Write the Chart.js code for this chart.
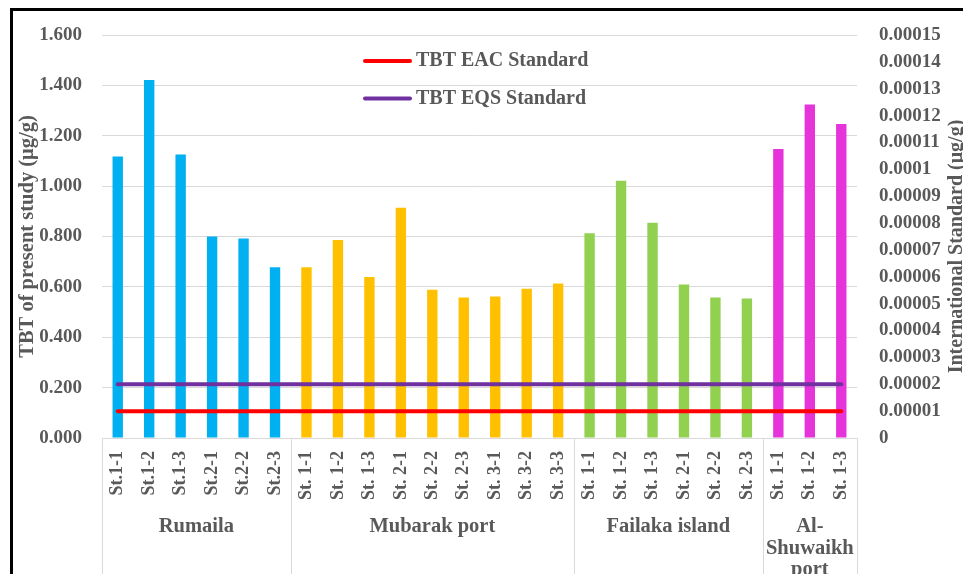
<!DOCTYPE html>
<html>
<head>
<meta charset="utf-8">
<title>TBT concentrations by station</title>
<script src="https://cdn.jsdelivr.net/npm/chart.js@4.4.1/dist/chart.umd.min.js"></script>
<style>
  html, body { margin: 0; padding: 0; background: #fff; overflow: hidden; }
  #wrap { position: relative; width: 963px; height: 574px; }
  #chart { position: absolute; left: 0; top: 0; }
  #frame { position: absolute; left: 10px; top: 8px; width: 1000px; height: 700px;
           border-left: 3px solid #000; border-top: 3px solid #000; pointer-events: none; }
</style>
</head>
<body>
<div id="wrap">
  <canvas id="chart" width="963" height="574"></canvas>
  <div id="frame"></div>
</div>
<script>
// Station labels per site
const rumailaStations   = ['St.1-1', 'St.1-2', 'St.1-3', 'St.2-1', 'St.2-2', 'St.2-3'];
const mubarakStations   = ['St. 1-1', 'St. 1-2', 'St. 1-3', 'St. 2-1', 'St. 2-2', 'St. 2-3', 'St. 3-1', 'St. 3-2', 'St. 3-3'];
const failakaStations   = ['St. 1-1', 'St. 1-2', 'St. 1-3', 'St. 2-1', 'St. 2-2', 'St. 2-3'];
const shuwaikhStations  = ['St. 1-1', 'St. 1-2', 'St. 1-3'];

// TBT measured in the present study (µg/g)
const rumailaTBT  = [1.118, 1.421, 1.126, 0.800, 0.792, 0.678];
const mubarakTBT  = [0.678, 0.786, 0.639, 0.914, 0.589, 0.558, 0.562, 0.593, 0.613];
const failakaTBT  = [0.813, 1.021, 0.855, 0.609, 0.558, 0.554];
const shuwaikhTBT = [1.147, 1.324, 1.247];

// Site names shown under the station labels (one entry per text line)
const siteNames = [['Rumaila'], ['Mubarak port'], ['Failaka island'], ['Al-', 'Shuwaikh', 'port']];

// International standards (µg/g), right axis
const eacStandard = 0.00001;
const eqsStandard = 0.00002;

// Axis ticks
const leftTicks  = [0, 0.2, 0.4, 0.6, 0.8, 1.0, 1.2, 1.4, 1.6];
const rightTicks = [0, 0.00001, 0.00002, 0.00003, 0.00004, 0.00005, 0.00006, 0.00007, 0.00008,
                    0.00009, 0.0001, 0.00011, 0.00012, 0.00013, 0.00014, 0.00015];

const siteColors = ['#00B0F0', '#FFC000', '#92D050', '#E535DA'];
const textColor = '#595959';
const serif = "'Liberation Serif', 'Times New Roman', serif";

const stationGroups = [rumailaStations, mubarakStations, failakaStations, shuwaikhStations];
const valueGroups = [rumailaTBT, mubarakTBT, failakaTBT, shuwaikhTBT];

const labels = stationGroups.flat();
const values = valueGroups.flat();
const barColors = valueGroups.flatMap((g, i) => g.map(() => siteColors[i]));

Chart.defaults.font.family = serif;
Chart.defaults.color = textColor;

// Site names and separators under the category axis
const siteAxisPlugin = {
  id: 'siteAxis',
  afterDraw(chart) {
    const { ctx, chartArea, scales: { x } } = chart;
    const half = (x.getPixelForValue(1) - x.getPixelForValue(0)) / 2;
    const y0 = chartArea.bottom;
    const yEnd = chart.height;
    ctx.save();
    ctx.strokeStyle = '#d9d9d9';
    ctx.lineWidth = 1;
    const leftEdge = x.getPixelForValue(0) - half;
    const rightEdge = x.getPixelForValue(labels.length - 1) + half;
    ctx.beginPath();
    ctx.moveTo(leftEdge, y0 + 0.5);
    ctx.lineTo(rightEdge, y0 + 0.5);
    let start = 0;
    const bounds = [leftEdge];
    stationGroups.forEach(g => {
      start += g.length;
      bounds.push(x.getPixelForValue(start - 1) + half);
    });
    bounds.forEach(b => {
      const bx = Math.round(b) + 0.5;
      ctx.moveTo(bx, y0);
      ctx.lineTo(bx, yEnd);
    });
    ctx.stroke();

    ctx.fillStyle = textColor;
    ctx.font = `bold 20.5px ${serif}`;
    ctx.textAlign = 'center';
    ctx.textBaseline = 'middle';
    let idx = 0;
    stationGroups.forEach((g, i) => {
      const cx = (x.getPixelForValue(idx) + x.getPixelForValue(idx + g.length - 1)) / 2;
      siteNames[i].forEach((line, k) => {
        ctx.fillText(line, cx, y0 + 89 + k * 21.5);
      });
      idx += g.length;
    });
    ctx.restore();
  }
};

// Legend for the two standard lines, inside the plot area
const standardsLegendPlugin = {
  id: 'standardsLegend',
  afterDraw(chart) {
    const { ctx, chartArea } = chart;
    const items = chart.data.datasets.filter(d => d.type === 'line');
    const x0 = chartArea.left + 263;
    ctx.save();
    ctx.font = `bold 20px ${serif}`;
    ctx.textBaseline = 'middle';
    ctx.textAlign = 'left';
    items.forEach((d, i) => {
      const y = chartArea.top + 26 + i * 37.5;
      ctx.strokeStyle = d.borderColor;
      ctx.lineWidth = 4;
      ctx.lineCap = 'round';
      ctx.beginPath();
      ctx.moveTo(x0, y);
      ctx.lineTo(x0 + 45, y);
      ctx.stroke();
      ctx.fillStyle = textColor;
      ctx.fillText(d.label, x0 + 51, y);
    });
    ctx.restore();
  }
};

// Right axis title, reading bottom to top
const rightTitlePlugin = {
  id: 'rightTitle',
  afterDraw(chart) {
    const { ctx, chartArea } = chart;
    ctx.save();
    ctx.translate(957, (chartArea.top + chartArea.bottom) / 2 + 10);
    ctx.rotate(-Math.PI / 2);
    ctx.font = `bold 20px ${serif}`;
    ctx.fillStyle = textColor;
    ctx.textAlign = 'center';
    ctx.textBaseline = 'middle';
    ctx.fillText('International Standard (μg/g)', 0, 0);
    ctx.restore();
  }
};

const tickFont = { family: serif, size: 19, weight: 'bold' };

new Chart(document.getElementById('chart'), {
  data: {
    labels,
    datasets: [
      {
        type: 'line',
        label: 'TBT EAC Standard',
        data: labels.map(() => eacStandard),
        borderColor: '#FF0000',
        borderWidth: 4,
        borderCapStyle: 'round',
        pointRadius: 0,
        yAxisID: 'y1',
        order: 0
      },
      {
        type: 'line',
        label: 'TBT EQS Standard',
        data: labels.map(() => eqsStandard),
        borderColor: '#7030A0',
        borderWidth: 4,
        borderCapStyle: 'round',
        pointRadius: 0,
        yAxisID: 'y1',
        order: 0
      },
      {
        type: 'bar',
        label: 'TBT',
        data: values,
        backgroundColor: barColors,
        barPercentage: 0.33,
        categoryPercentage: 1,
        yAxisID: 'y',
        order: 2
      }
    ]
  },
  options: {
    responsive: false,
    animation: false,
    layout: { padding: { top: 35, left: 0, right: 0, bottom: 0 } },
    plugins: {
      legend: { display: false },
      tooltip: { enabled: false }
    },
    scales: {
      x: {
        offset: true,
        grid: { display: false, drawTicks: false },
        border: { display: false },
        ticks: {
          autoSkip: false,
          maxRotation: 90,
          minRotation: 90,
          padding: 13,
          color: textColor,
          font: { family: serif, size: 18, weight: 'bold' }
        },
        afterFit(s) { s.height = 136; }
      },
      y: {
        position: 'left',
        min: 0,
        max: 1.6,
        afterBuildTicks(s) { s.ticks = leftTicks.map(v => ({ value: v })); },
        ticks: {
          padding: 20,
          color: textColor,
          font: tickFont,
          callback: v => Number(v).toFixed(3)
        },
        grid: { color: '#d9d9d9', lineWidth: 1, drawTicks: false },
        border: { display: false },
        title: {
          display: true,
          text: 'TBT of present study (μg/g)',
          color: textColor,
          font: { family: serif, size: 20.5, weight: 'bold' },
          padding: { top: 15, bottom: 0 }
        },
        afterFit(s) { s.width = 102; }
      },
      y1: {
        position: 'right',
        min: 0,
        max: 0.00015,
        afterBuildTicks(s) { s.ticks = rightTicks.map(v => ({ value: v })); },
        ticks: {
          padding: 22,
          color: textColor,
          font: tickFont,
          callback: v => String(Number(Number(v).toFixed(5)))
        },
        grid: { display: false, drawTicks: false },
        border: { display: false },
        afterFit(s) { s.width = 106; }
      }
    }
  },
  plugins: [siteAxisPlugin, standardsLegendPlugin, rightTitlePlugin]
});
</script>
</body>
</html>
